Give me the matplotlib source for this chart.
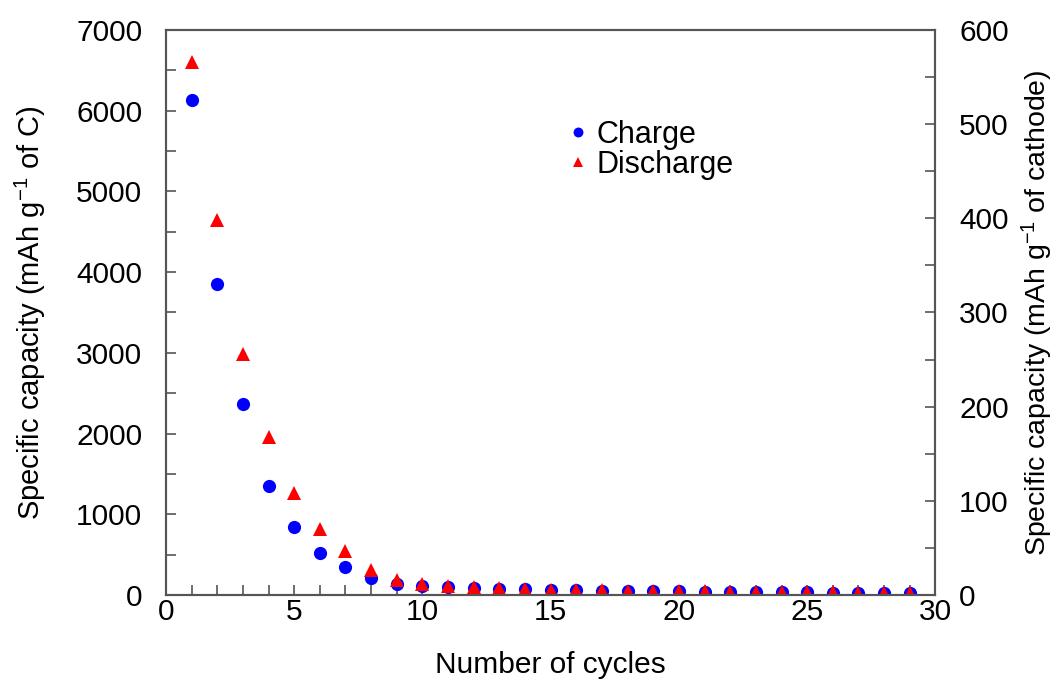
import matplotlib
matplotlib.use("Agg")
import matplotlib.pyplot as plt
from matplotlib.ticker import MultipleLocator

# cycle number and capacities (mAh g-1 of C)
cycles = list(range(1, 30))
charge = [6130, 3850, 2360, 1350, 845, 520, 345, 210, 140, 115, 100, 90, 80, 72,
          65, 60, 55, 50, 48, 45, 42, 40, 38, 35, 32, 30, 28, 25, 22]
discharge = [6600, 4640, 2980, 1960, 1265, 820, 540, 310, 190, 140, 112, 95, 85, 75,
             68, 62, 57, 52, 50, 47, 44, 42, 40, 37, 34, 32, 30, 27, 24]

plt.rcParams['font.family'] = ['Liberation Sans', 'DejaVu Sans']
plt.rcParams['mathtext.fontset'] = 'custom'
plt.rcParams['mathtext.rm'] = 'Liberation Sans'
plt.rcParams['mathtext.default'] = 'rm'
spine_col = '#555555'

fig = plt.figure(figsize=(10.57, 6.80), dpi=100)
ax = fig.add_axes([0.157, 0.125, 0.728, 0.831])

ax.plot(cycles, charge, 'o', color='#0000ff', markersize=9.5, label='Charge',
        markeredgewidth=0)
ax.plot(cycles, discharge, '^', color='#ff0000', markersize=10, label='Discharge',
        markeredgewidth=0)

ax.set_xlim(0, 30)
ax.set_ylim(0, 7000)
ax.xaxis.set_major_locator(MultipleLocator(5))
ax.xaxis.set_minor_locator(MultipleLocator(1))
ax.yaxis.set_major_locator(MultipleLocator(1000))
ax.yaxis.set_minor_locator(MultipleLocator(500))
ax.tick_params(axis='both', which='both', direction='in', length=7, width=1.2,
               colors=spine_col, labelcolor='black', labelsize=21.5)
ax.tick_params(axis='y', which='both', pad=17)
ax.tick_params(axis='x', which='both', pad=2)
for s in ax.spines.values():
    s.set_color(spine_col)
    s.set_linewidth(1.5)

ax.set_xlabel('Number of cycles', fontsize=21.5, labelpad=18)
ax.set_ylabel('Specific capacity (mAh g$^{-1}$ of C)', fontsize=21, labelpad=20)

ax2 = ax.twinx()
ax2.set_ylim(0, 600)
ax2.yaxis.set_major_locator(MultipleLocator(100))
ax2.yaxis.set_minor_locator(MultipleLocator(50))
ax2.tick_params(axis='y', which='both', direction='in', length=7, width=1.2,
                colors=spine_col, labelcolor='black', labelsize=21.5, pad=17)
for s in ax2.spines.values():
    s.set_color(spine_col)
    s.set_linewidth(1.5)
ax2.set_ylabel('Specific capacity (mAh g$^{-1}$ of cathode)', fontsize=20.5,
               labelpad=8)

ax.legend(loc='upper left', bbox_to_anchor=(0.50, 0.862), frameon=False,
          fontsize=22, handletextpad=0.1, handlelength=1.0, labelspacing=0.0,
          markerscale=0.75, borderaxespad=0)

fig.savefig('out.png', dpi=100)
